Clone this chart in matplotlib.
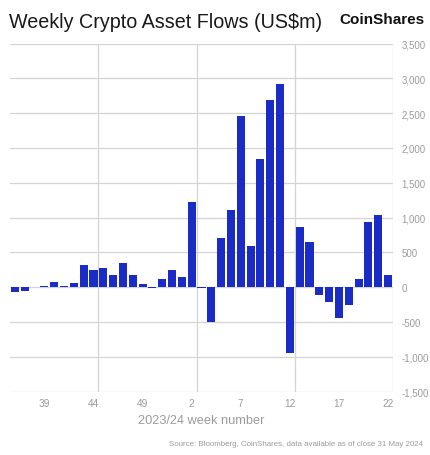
import matplotlib
matplotlib.use("Agg")
import numpy as np
from matplotlib import pyplot as plt
from matplotlib.ticker import FuncFormatter

# Week numbers: 2023 weeks 36-52, then 2024 weeks 1-22
weeks = list(range(36, 53)) + list(range(1, 23))
flows = [-70, -55, 8, 22, 70, 15, 60, 315, 250, 280, 170, 340, 175, 40,
         -15, 110, 240,
         150, 1220, -20, -495, 707, 1110, 2462, 590, 1837, 2683, 2913,
         -943, 870, 646, -120, -207, -440, -250, 119, 932, 1042, 181]
tick_labels = ["39", "44", "49", "2", "7", "12", "17", "22"]
y_ticks = list(range(-1500, 3501, 500))

bar_color = "#1a2bc6"
grid_color = "#d4d4d4"
text_gray = "#9b9b9b"

plt.rcParams["font.family"] = ["Liberation Sans", "DejaVu Sans"]

fig = plt.figure(figsize=(4.30, 4.56), dpi=100)
ax = fig.add_axes([10 / 430, 1 - 392.5 / 456, 383 / 430, 348 / 456])

x = np.arange(len(weeks))
ax.bar(x, flows, width=0.82, color=bar_color, zorder=3)

ax.set_xlim(-0.5, len(weeks) - 0.5)
ax.set_ylim(-1500, 3500)

# labels every 5th week starting at week 39 (index 3)
tick_pos = list(range(3, len(weeks), 5))
ax.set_xticks(tick_pos)
ax.set_xticklabels(tick_labels)
# vertical grid sits between weeks 44|45, 2|3, 12|13 and at the right end
ax.set_xticks([8.5, 18.5, 28.5, 38.5], minor=True)
ax.grid(True, axis="x", which="minor", color=grid_color, linewidth=0.9, zorder=0)

ax.set_yticks(y_ticks)
ax.yaxis.set_major_formatter(FuncFormatter(lambda v, p: f"{int(v):,}"))
ax.yaxis.tick_right()
ax.grid(True, axis="y", which="major", color=grid_color, linewidth=0.9, zorder=0)

ax.tick_params(axis="both", which="both", length=0, labelsize=7.3, colors=text_gray)
ax.tick_params(axis="y", labelsize=7, pad=6)
ax.tick_params(axis="x", pad=5)
for s in ax.spines.values():
    s.set_visible(False)

ax.set_xlabel("2023/24 week number", fontsize=9.2, color=text_gray, labelpad=4)

fig.text(9 / 430, 1 - 23 / 456, "Weekly Crypto Asset Flows (US$m)", fontsize=14.2,
         color="#1a1a1a", va="center", ha="left")
fig.text(425 / 430, 1 - 20 / 456, "CoinShares", fontsize=11, fontweight="bold",
         color="#111111", va="center", ha="right")
fig.text(423 / 430, 1 - 445 / 456,
         "Source: Bloomberg, CoinShares, data available as of close 31 May 2024",
         fontsize=5.7, color=text_gray, va="center", ha="right")

fig.savefig("out.png", dpi=100, facecolor="white")
